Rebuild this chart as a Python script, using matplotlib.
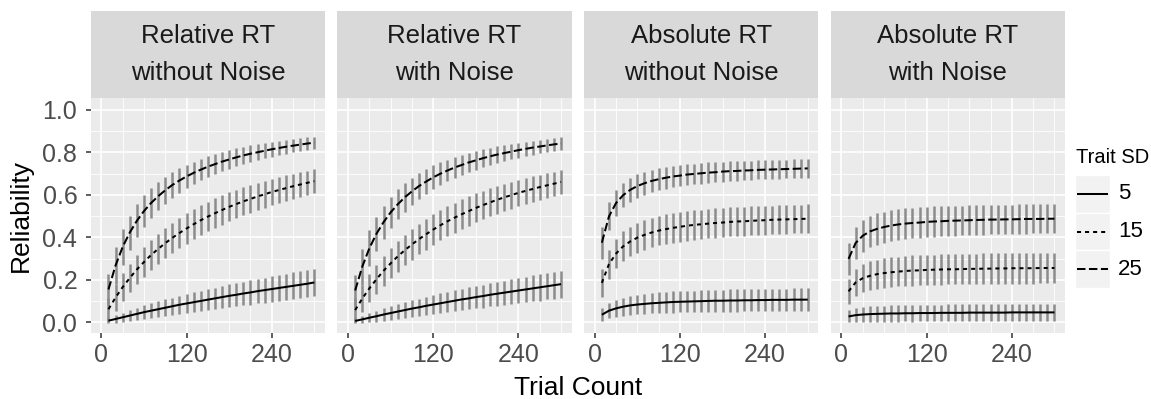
import matplotlib
matplotlib.use('Agg')
import matplotlib.pyplot as plt
from matplotlib.patches import Rectangle
from matplotlib.lines import Line2D

plt.rcParams['font.family'] = ['Liberation Sans', 'DejaVu Sans']
plt.rcParams['lines.scale_dashes'] = False

# ---------------- data ----------------
trial_counts = [10, 20, 30, 40, 50, 60, 70, 80, 90, 100, 110, 120, 130, 140, 150,
                160, 170, 180, 190, 200, 210, 220, 230, 240, 250, 260, 270, 280, 290, 300]
trait_sds = [5, 15, 25]
panel_titles = [("Relative RT", "without Noise"), ("Relative RT", "with Noise"),
                ("Absolute RT", "without Noise"), ("Absolute RT", "with Noise")]
x_ticks = [0, 120, 240]
y_ticks = [0.0, 0.2, 0.4, 0.6, 0.8, 1.0]
y_tick_labels = ["0.0", "0.2", "0.4", "0.6", "0.8", "1.0"]

# Relative RT without Noise
rel_nn_sd5 = [0.008,0.016,0.024,0.032,0.040,0.048,0.055,0.062,0.069,0.076,0.083,0.089,0.095,0.101,0.107,0.113,0.119,0.125,0.130,0.136,0.141,0.147,0.152,0.157,0.162,0.167,0.172,0.177,0.182,0.188]
rel_nn_sd15 = [0.062,0.117,0.166,0.209,0.249,0.284,0.317,0.346,0.373,0.398,0.421,0.442,0.462,0.481,0.498,0.514,0.529,0.544,0.557,0.570,0.581,0.593,0.603,0.614,0.623,0.632,0.641,0.649,0.657,0.665]
rel_nn_sd25 = [0.155,0.268,0.355,0.423,0.478,0.524,0.562,0.594,0.622,0.647,0.668,0.687,0.704,0.719,0.733,0.745,0.757,0.767,0.777,0.786,0.794,0.801,0.808,0.815,0.821,0.827,0.832,0.837,0.842,0.846]
rel_nn_sd5_err = [0.012,0.018,0.022,0.026,0.029,0.032,0.035,0.037,0.039,0.041,0.043,0.045,0.047,0.048,0.050,0.051,0.052,0.054,0.055,0.056,0.057,0.058,0.059,0.060,0.061,0.062,0.063,0.063,0.064,0.065]
rel_nn_sd15_err = [0.055,0.062,0.066,0.068,0.070,0.071,0.072,0.072,0.072,0.072,0.072,0.072,0.071,0.071,0.070,0.070,0.069,0.068,0.067,0.066,0.065,0.064,0.063,0.062,0.061,0.060,0.059,0.058,0.057,0.056]
rel_nn_sd25_err = [0.075,0.085,0.085,0.080,0.078,0.074,0.070,0.067,0.064,0.061,0.058,0.055,0.053,0.051,0.049,0.047,0.045,0.043,0.042,0.040,0.039,0.037,0.036,0.035,0.034,0.033,0.032,0.031,0.030,0.029]

# Relative RT with Noise
rel_wn_sd5 = [0.007,0.014,0.022,0.029,0.037,0.044,0.051,0.058,0.065,0.071,0.078,0.084,0.090,0.096,0.102,0.108,0.113,0.119,0.124,0.130,0.135,0.140,0.145,0.150,0.155,0.160,0.165,0.170,0.175,0.180]
rel_wn_sd15 = [0.058,0.112,0.160,0.203,0.243,0.278,0.311,0.340,0.367,0.392,0.415,0.437,0.457,0.476,0.493,0.509,0.524,0.539,0.552,0.565,0.577,0.589,0.599,0.610,0.619,0.628,0.637,0.645,0.653,0.661]
rel_wn_sd25 = [0.150,0.262,0.349,0.417,0.472,0.518,0.556,0.589,0.617,0.642,0.663,0.683,0.700,0.715,0.729,0.741,0.753,0.763,0.773,0.782,0.790,0.797,0.804,0.811,0.817,0.823,0.828,0.833,0.838,0.842]
rel_wn_sd5_err = [0.012,0.018,0.022,0.026,0.029,0.032,0.035,0.037,0.039,0.041,0.043,0.045,0.046,0.048,0.049,0.050,0.052,0.053,0.054,0.055,0.056,0.057,0.058,0.059,0.060,0.061,0.062,0.062,0.063,0.064]
rel_wn_sd15_err = [0.055,0.062,0.066,0.068,0.070,0.071,0.072,0.072,0.072,0.072,0.072,0.072,0.071,0.071,0.070,0.070,0.069,0.068,0.067,0.066,0.065,0.064,0.063,0.062,0.061,0.060,0.059,0.058,0.057,0.056]
rel_wn_sd25_err = [0.075,0.085,0.085,0.081,0.078,0.074,0.071,0.067,0.064,0.061,0.058,0.056,0.053,0.051,0.049,0.047,0.045,0.044,0.042,0.041,0.039,0.038,0.036,0.035,0.034,0.033,0.032,0.031,0.030,0.030]

# Absolute RT without Noise
abs_nn_sd5 = [0.036,0.055,0.066,0.074,0.080,0.084,0.087,0.090,0.092,0.094,0.096,0.097,0.098,0.099,0.100,0.101,0.102,0.102,0.103,0.103,0.104,0.104,0.105,0.105,0.106,0.106,0.106,0.107,0.107,0.107]
abs_nn_sd15 = [0.186,0.274,0.324,0.358,0.381,0.399,0.412,0.423,0.432,0.439,0.445,0.450,0.455,0.459,0.462,0.465,0.468,0.470,0.473,0.475,0.476,0.478,0.480,0.481,0.483,0.484,0.485,0.486,0.487,0.488]
abs_nn_sd25 = [0.375,0.499,0.562,0.599,0.624,0.642,0.655,0.666,0.674,0.681,0.687,0.691,0.696,0.699,0.702,0.705,0.707,0.710,0.712,0.713,0.715,0.716,0.718,0.719,0.720,0.721,0.722,0.723,0.724,0.725]
abs_nn_sd5_err = [0.030,0.036,0.040,0.043,0.045,0.046,0.047,0.048,0.049,0.049,0.050,0.050,0.050,0.051,0.051,0.051,0.051,0.052,0.052,0.052,0.052,0.052,0.053,0.053,0.053,0.053,0.053,0.053,0.053,0.053]
abs_nn_sd15_err = [0.066,0.068,0.069,0.070,0.070,0.070,0.070,0.070,0.070,0.070,0.070,0.070,0.070,0.069,0.069,0.069,0.069,0.069,0.068,0.068,0.068,0.068,0.068,0.068,0.067,0.067,0.067,0.067,0.067,0.067]
abs_nn_sd25_err = [0.075,0.066,0.061,0.058,0.056,0.055,0.054,0.053,0.052,0.052,0.051,0.050,0.050,0.049,0.049,0.048,0.048,0.047,0.047,0.047,0.046,0.046,0.045,0.045,0.045,0.044,0.044,0.044,0.043,0.043]

# Absolute RT with Noise
abs_wn_sd5 = [0.028,0.034,0.037,0.039,0.040,0.041,0.042,0.042,0.043,0.043,0.044,0.044,0.044,0.045,0.045,0.045,0.045,0.046,0.046,0.046,0.046,0.046,0.046,0.047,0.047,0.047,0.047,0.047,0.047,0.047]
abs_wn_sd15 = [0.146,0.188,0.208,0.219,0.227,0.232,0.236,0.239,0.242,0.244,0.245,0.247,0.248,0.249,0.250,0.250,0.251,0.252,0.252,0.253,0.253,0.254,0.254,0.255,0.255,0.255,0.255,0.256,0.256,0.256]
abs_wn_sd25 = [0.299,0.374,0.408,0.428,0.440,0.449,0.456,0.461,0.465,0.468,0.470,0.473,0.475,0.476,0.478,0.479,0.480,0.481,0.482,0.483,0.484,0.484,0.485,0.485,0.486,0.487,0.487,0.487,0.488,0.488]
abs_wn_sd5_err = [0.028,0.032,0.034,0.036,0.037,0.037,0.038,0.038,0.038,0.039,0.039,0.039,0.039,0.039,0.040,0.040,0.040,0.040,0.040,0.040,0.040,0.040,0.040,0.040,0.040,0.040,0.040,0.040,0.040,0.040]
abs_wn_sd15_err = [0.060,0.065,0.067,0.068,0.069,0.070,0.070,0.070,0.071,0.071,0.071,0.071,0.071,0.071,0.071,0.071,0.072,0.072,0.072,0.072,0.072,0.072,0.072,0.072,0.072,0.072,0.072,0.072,0.072,0.072]
abs_wn_sd25_err = [0.077,0.076,0.075,0.074,0.074,0.073,0.073,0.072,0.072,0.072,0.072,0.072,0.071,0.071,0.071,0.071,0.070,0.070,0.070,0.070,0.070,0.069,0.069,0.069,0.069,0.069,0.068,0.068,0.068,0.068]

panel_means = [
    [rel_nn_sd5, rel_nn_sd15, rel_nn_sd25],
    [rel_wn_sd5, rel_wn_sd15, rel_wn_sd25],
    [abs_nn_sd5, abs_nn_sd15, abs_nn_sd25],
    [abs_wn_sd5, abs_wn_sd15, abs_wn_sd25],
]
panel_errs = [
    [rel_nn_sd5_err, rel_nn_sd15_err, rel_nn_sd25_err],
    [rel_wn_sd5_err, rel_wn_sd15_err, rel_wn_sd25_err],
    [abs_nn_sd5_err, abs_nn_sd15_err, abs_nn_sd25_err],
    [abs_wn_sd5_err, abs_wn_sd15_err, abs_wn_sd25_err],
]

# ---------------- style / layout ----------------
W, H = 1151, 399
fig = plt.figure(figsize=(W / 100, H / 100), dpi=100)


def fx(px):
    return px / W


def fy(py):
    return 1 - py / H


linestyles = {5: '-', 15: (0, (2.9, 2.9)), 25: (0, (6.1, 2.5))}
line_w = 1.45
err_color = '#8c8c8c'

panel_left0 = 90.7
panel_step = 246.7
panel_w = 234.3
panel_top = 98.3
panel_bot = 333.0
strip_top = 11.0

x_minor = [v for v in range(0, 301, 30) if v not in x_ticks]
y_minor = [0.1, 0.3, 0.5, 0.7, 0.9]

for i in range(4):
    left = panel_left0 + i * panel_step
    ax = fig.add_axes([fx(left), fy(panel_bot), panel_w / W, (panel_bot - panel_top) / H])
    ax.set_facecolor('#EBEBEB')
    for s in ax.spines.values():
        s.set_visible(False)
    ax.set_xlim(-15, 315)
    ax.set_ylim(-0.05, 1.055)
    ax.set_xticks(x_ticks)
    ax.set_xticks(x_minor, minor=True)
    ax.set_yticks(y_ticks)
    ax.set_yticks(y_minor, minor=True)
    ax.set_yticklabels(y_tick_labels)
    ax.set_axisbelow(True)
    ax.grid(which='major', color='white', lw=1.2)
    ax.grid(which='minor', color='white', lw=0.6)
    ax.tick_params(which='minor', length=0)
    ax.tick_params(axis='both', which='major', length=3.6, width=1.1, color='#333333',
                   labelsize=18, labelcolor='#4D4D4D')
    ax.tick_params(axis='x', pad=3.5)
    ax.tick_params(axis='y', pad=6.0)
    if i > 0:
        ax.tick_params(axis='y', left=False, labelleft=False)

    for sd, mean, err in zip(trait_sds, panel_means[i], panel_errs[i]):
        lo = [m - e for m, e in zip(mean, err)]
        hi = [m + e for m, e in zip(mean, err)]
        ax.vlines(trial_counts, lo, hi, color=err_color, lw=1.8, zorder=2)
    for sd, mean in zip(trait_sds, panel_means[i]):
        ax.plot(trial_counts, mean, color='black', lw=line_w, linestyle=linestyles[sd],
                zorder=3, solid_capstyle='butt', dash_capstyle='butt')

    # facet strip
    fig.patches.append(Rectangle((fx(left), fy(panel_top)), panel_w / W,
                                 (panel_top - strip_top) / H, transform=fig.transFigure,
                                 facecolor='#D9D9D9', edgecolor='none'))
    cx = left + panel_w / 2
    fig.text(fx(cx), fy(42.7), panel_titles[i][0], ha='center', va='baseline',
             fontsize=18.5, color='#1A1A1A')
    fig.text(fx(cx), fy(80.0), panel_titles[i][1], ha='center', va='baseline',
             fontsize=18.5, color='#1A1A1A')

# axis titles
fig.text(fx(21), fy((panel_top + panel_bot) / 2), 'Reliability', rotation=90,
         ha='center', va='center', fontsize=19, color='black')
fig.text(fx(panel_left0 + (3 * panel_step + panel_w) / 2), fy(395), 'Trial Count',
         ha='center', va='baseline', fontsize=19, color='black')

# legend
fig.text(fx(1076), fy(163), 'Trait SD', ha='left', va='baseline', fontsize=14.5, color='black')
key_top = 175.0
key_h = 37.7
for j, sd in enumerate(trait_sds):
    top = key_top + j * key_h
    fig.patches.append(Rectangle((fx(1075), fy(top + key_h)), 35 / W, key_h / H,
                                 transform=fig.transFigure, facecolor='#F2F2F2',
                                 edgecolor='white', lw=1.0))
    cy = top + key_h / 2
    fig.lines.append(Line2D([fx(1077), fx(1108)], [fy(cy), fy(cy)], transform=fig.transFigure,
                            color='black', lw=line_w, linestyle=linestyles[sd],
                            solid_capstyle='butt', dash_capstyle='butt'))
    fig.text(fx(1118), fy(cy), str(sd), ha='left', va='center', fontsize=16, color='black')

fig.savefig('out.png', dpi=100, facecolor='white')
